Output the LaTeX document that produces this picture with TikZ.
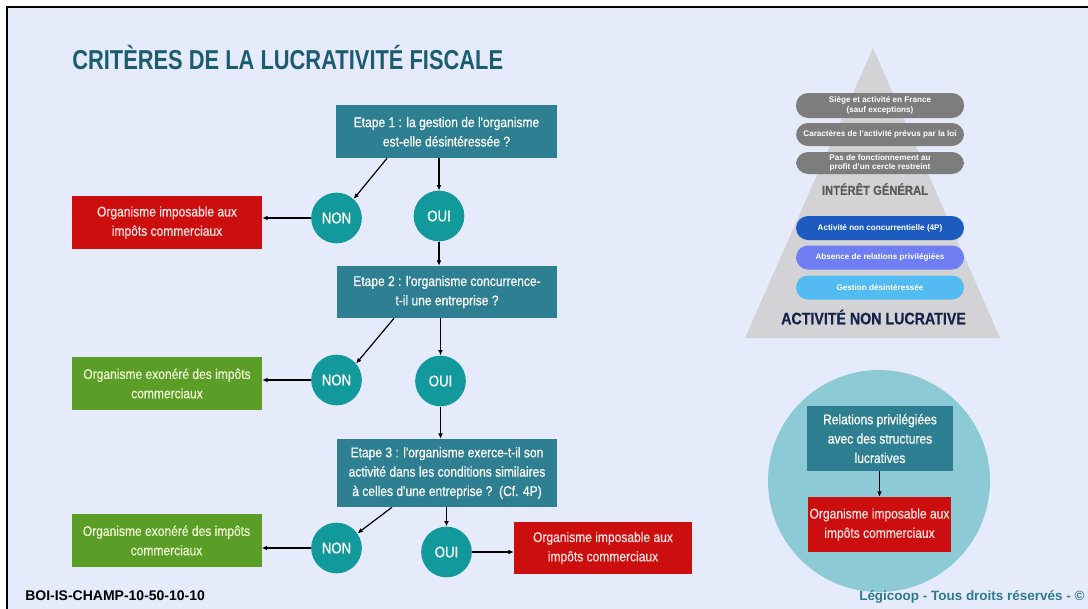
\documentclass[tikz,border=0pt]{standalone}
\usepackage{fontspec}
\setmainfont{Liberation Sans}
\newfontfamily\etroite{Liberation Sans}[FakeStretch=0.86,FakeBold=0.6]
\newfontfamily\titre{Liberation Sans}[FakeStretch=0.80]
\usetikzlibrary{arrows.meta}
\definecolor{fond}{HTML}{E5EBFA}
\definecolor{titrecol}{HTML}{1C5C70}
\definecolor{bleuetape}{HTML}{2F7F92}
\definecolor{rondcol}{HTML}{12999B}
\definecolor{rougecol}{HTML}{CC0E0E}
\definecolor{vertcol}{HTML}{5A9E27}
\definecolor{textrouge}{HTML}{FFE2E2}
\definecolor{textvert}{HTML}{EEF5D2}
\definecolor{pyragris}{HTML}{D3D3D6}
\definecolor{pilgris}{HTML}{7D7D7D}
\definecolor{bleuA}{HTML}{1E5BC0}
\definecolor{bleuB}{HTML}{6F7EF2}
\definecolor{bleuC}{HTML}{52BCF2}
\definecolor{interet}{HTML}{5A5A5A}
\definecolor{nonlucr}{HTML}{15234A}
\definecolor{cercle}{HTML}{8CCAD6}
\definecolor{legicoop}{HTML}{2E7A8C}

\begin{document}
\begin{tikzpicture}[x=0.75pt,y=-0.75pt,
    etape/.style={fill=bleuetape,text=white,align=center,inner sep=0pt,
      minimum width=165.5pt,font=\etroite\fontsize{10.5}{14.5}\selectfont},
    rond/.style={circle,fill=rondcol,text=white,inner sep=0pt,minimum size=38pt,
      font=\etroite\fontsize{11.5}{13}\selectfont},
    rouge/.style={fill=rougecol,text=textrouge,align=center,inner sep=0pt,
      font=\etroite\fontsize{10.5}{14.5}\selectfont},
    vert/.style={fill=vertcol,text=textvert,align=center,inner sep=0pt,
      minimum width=142.5pt,minimum height=39.75pt,
      font=\etroite\fontsize{10.5}{14.5}\selectfont},
    pilule/.style={rounded corners=9pt,text=white,align=center,inner sep=0pt,
      minimum width=126pt,minimum height=18pt,
      font=\bfseries\fontsize{6.1}{7.2}\selectfont},
    fleche/.style={-{Latex[length=4pt,width=3.6pt]},line width=0.9pt}]
\useasboundingbox (0,0) rectangle (1088,608);
\clip (0,0) rectangle (1088,608);
\fill[white] (0,0) rectangle (1088,608);
\fill[fond] (7,7) rectangle (1100,620);
\draw[line width=1.5pt] (7,620) -- (7,7) -- (1100,7);

\node[anchor=base west,inner sep=0pt,text=titrecol,font=\titre\bfseries\fontsize{20.5}{24}\selectfont] (titre) at (72,69) {CRITÈRES DE LA LUCRATIVITÉ FISCALE};

% etape 1
\node[etape,minimum height=39.4pt] (e1) at (446.5,131.75) {Etape 1 : la gestion de l'organisme\\est-elle désintéressée ?};
\node[rond] (non1) at (336.5,218) {NON};
\node[rond] (oui1) at (439,216) {OUI};
\node[rouge,minimum width=142.5pt,minimum height=39.75pt] (rouge1) at (167,222.5) {Organisme imposable aux\\impôts commerciaux};
\draw[fleche] ([xshift=-44.6pt]e1.south) -- (non1.48);
\draw[fleche] (e1.south -| oui1) -- (oui1.north);
\draw[fleche] (non1.west) -- (non1.west -| rouge1.east);

% etape 2
\node[etape,minimum height=39pt] (e2) at (447,292) {Etape 2 : l'organisme concurrence-\\t-il une entreprise ?};
\node[rond] (non2) at (336.5,380) {NON};
\node[rond] (oui2) at (440.5,381) {OUI};
\node[vert] (vert1) at (167,383.5) {Organisme exonéré des impôts\\commerciaux};
\draw[fleche] (oui1.south) -- (oui1.south |- e2.north);
\draw[fleche] ([xshift=-39.75pt]e2.south) -- (non2.40);
\draw[fleche] (e2.south -| oui2) -- (oui2.north);
\draw[fleche] (non2.west) -- (non2.west -| vert1.east);

% etape 3
\node[etape,minimum height=51pt] (e3) at (447,473) {Etape 3 : l'organisme exerce-t-il son\\activité dans les conditions similaires\\à celles d'une entreprise ?\ \ (Cf. 4P)};
\node[rond] (non3) at (336.5,548) {NON};
\node[rond] (oui3) at (446.5,552) {OUI};
\node[vert] (vert2) at (166.5,540.5) {Organisme exonéré des impôts\\commerciaux};
\node[rouge,minimum width=133.5pt,minimum height=39pt] (rouge2) at (603,548) {Organisme imposable aux\\impôts commerciaux};
\draw[fleche] (oui2.south) -- (oui2.south |- e3.north);
\draw[fleche] ([xshift=-41.25pt]e3.south) -- (non3.35);
\draw[fleche] (e3.south -| oui3) -- (oui3.north);
\draw[fleche] (non3.west) -- (non3.west -| vert2.east);
\draw[fleche] (oui3.east) -- (oui3.east -| rouge2.west);

% pyramide
\coordinate (sommet) at (873,48);
\coordinate (basegauche) at (745,338);
\coordinate (basedroite) at (1000,338);
\fill[pyragris] (sommet) -- (basegauche) -- (basedroite) -- cycle;
\node[pilule,fill=pilgris,minimum height=18.75pt] (siege) at (880,105.5) {Siège et activité en France\\(sauf exceptions)};
\node[pilule,fill=pilgris,minimum height=17.25pt] (caract) at (880,134.5) {Caractères de l'activité prévus par la loi};
\node[pilule,fill=pilgris,minimum height=16.5pt] (cercle) at (880,163) {Pas de fonctionnement au\\profit d'un cercle restreint};
\node[text=interet,font=\etroite\bfseries\fontsize{9.8}{12}\selectfont] (interet) at (875,189) {INTÉRÊT GÉNÉRAL};
\node[pilule,fill=bleuA] (concur) at (880,228) {Activité non concurrentielle (4P)};
\node[pilule,fill=bleuB] (relat) at (880,257.5) {Absence de relations privilégiées};
\node[pilule,fill=bleuC] (gestion) at (880,287.5) {Gestion désintéressée};
\node[text=nonlucr,font=\etroite\bfseries\fontsize{12.4}{14}\selectfont] (nonlucratif) at (873.5,317) {ACTIVITÉ NON LUCRATIVE};

% cercle
\fill[cercle] (879,481) circle[radius=111];
\node[etape,minimum width=109.5pt,minimum height=48.75pt] (relations) at (880,438.5) {Relations privilégiées\\avec des structures\\lucratives};
\node[rouge,minimum width=107.25pt,minimum height=41.25pt] (rouge3) at (879.5,524.5) {Organisme imposable aux\\impôts commerciaux};
\draw[fleche] (relations.south -| rouge3) -- (rouge3.north);

\node[anchor=base west,inner sep=0pt,font=\bfseries\fontsize{10.5}{12}\selectfont] (boi) at (25,600) {BOI-IS-CHAMP-10-50-10-10};
\node[anchor=base west,inner sep=0pt,text=legicoop,font=\bfseries\fontsize{10.1}{12}\selectfont] (droits) at (859,600) {Légicoop - Tous droits réservés - ©};
\end{tikzpicture}
\end{document}
